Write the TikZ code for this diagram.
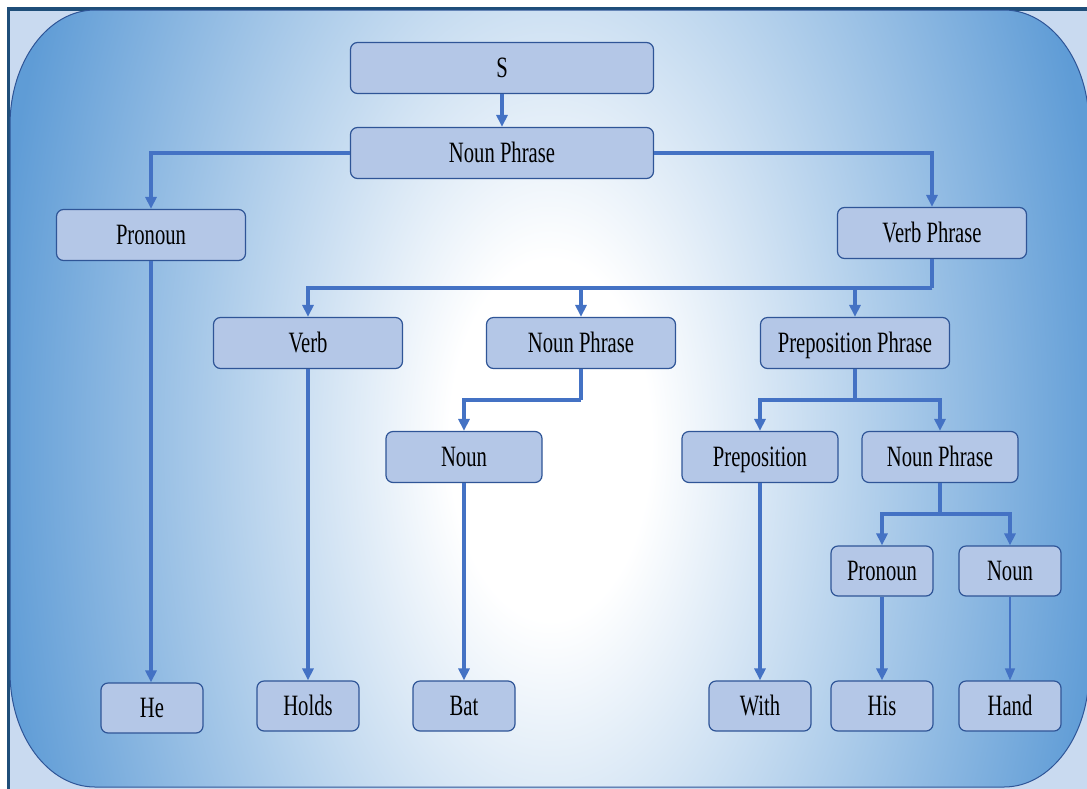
\documentclass[tikz,border=0pt]{standalone}
\usepackage{fontspec}
\setmainfont{Liberation Serif}[FakeStretch=0.70]
\usetikzlibrary{arrows.meta,calc}
\definecolor{bgedge}{HTML}{5F9CD6}
\definecolor{outerfill}{HTML}{C9DAF0}
\definecolor{outerline}{HTML}{1F4E79}
\definecolor{rrline}{HTML}{2F5597}
\definecolor{boxfill}{HTML}{B4C7E7}
\definecolor{boxline}{HTML}{2F5597}
\definecolor{conncol}{HTML}{4472C4}
\pgfdeclareradialshading{bgshade}{\pgfpoint{0bp}{0bp}}{color(0bp)=(white); color(4.5bp)=(white); color(25bp)=(bgedge); color(50bp)=(bgedge)}
\tikzset{
  box/.style={draw=boxline, line width=1.2pt, fill=boxfill, rounded corners=7pt,
    inner sep=0pt, text height=19.5pt, text depth=0pt, align=center,
    font=\fontsize{29.5}{30}\selectfont},
  bigbox/.style={box, minimum width=303pt, minimum height=51pt},
  medbox/.style={box, minimum width=189pt, minimum height=51pt},
  midbox/.style={box, minimum width=156pt, minimum height=51pt},
  smallbox/.style={box, minimum width=102pt, minimum height=50pt},
  conn/.style={draw=conncol, line width=3.5pt, -{Triangle[width=11pt,length=12pt]}},
  thinconn/.style={draw=conncol, line width=1.3pt, -{Triangle[width=10pt,length=12pt]}},
  plainconn/.style={draw=conncol, line width=3.5pt},
}
\begin{document}
\begin{tikzpicture}[x=1pt,y=-1pt]
\useasboundingbox (0,0) rectangle (1087,788);
% outer frame
\begin{scope}
\clip (0,0) rectangle (1087,788);
\draw[fill=outerfill, draw=outerline, line width=3.5pt] (8.5,9) rectangle (1100,800);
% rounded panel
\def\pnl{(10,125) arc[start angle=180, end angle=270, x radius=85, y radius=115] -- (1004,10)
  arc[start angle=270, end angle=360, x radius=85, y radius=115] -- (1089,672)
  arc[start angle=0, end angle=90, x radius=85, y radius=115] -- (95,787)
  arc[start angle=90, end angle=180, x radius=85, y radius=115] -- cycle}
\begin{scope}
\clip \pnl;
\shade[shading=bgshade] (-10,-560) rectangle (1110,1440);
\end{scope}
\draw[rrline, line width=1pt] \pnl;
\end{scope}

% nodes
\node[bigbox] (s) at (502,68) {S};
\node[bigbox] (np1) at (502,153) {Noun Phrase};
\node[medbox] (pron1) at (151,235) {Pronoun};
\node[medbox] (vp) at (932,233) {Verb Phrase};
\node[medbox] (verb) at (308,343) {Verb};
\node[medbox] (np2) at (581,343) {Noun Phrase};
\node[medbox] (pp) at (855,343) {Preposition Phrase};
\node[midbox] (noun1) at (464,457) {Noun};
\node[midbox] (prep) at (760,457) {Preposition};
\node[midbox] (np3) at (940,457) {Noun Phrase};
\node[smallbox] (pron2) at (882,571) {Pronoun};
\node[smallbox] (noun2) at (1010,571) {Noun};
\node[smallbox] (he) at (152,708) {He};
\node[smallbox] (holds) at (308,706) {Holds};
\node[smallbox] (bat) at (464,706) {Bat};
\node[smallbox] (with) at (760,706) {With};
\node[smallbox] (his) at (882,706) {His};
\node[smallbox] (hand) at (1010,706) {Hand};

% junctions
\coordinate (j1) at (932,288);
\coordinate (j2) at (581,400);
\coordinate (j3) at (855,400);
\coordinate (j4) at (940,514);

% connectors
\draw[conn] (s) -- (np1);
\draw[conn] (np1.west) -| (pron1.north);
\draw[conn] (np1.east) -| (vp.north);
\draw[plainconn] (vp.south) -- (j1);
\draw[conn] (j1) -| (verb.north);
\draw[conn] (j1) -| (np2.north);
\draw[conn] (j1) -| (pp.north);
\draw[conn] (pron1.south) -- (pron1.south |- he.north);
\draw[conn] (verb) -- (holds);
\draw[plainconn] (np2.south) -- (j2);
\draw[conn] (j2) -| (noun1.north);
\draw[conn] (noun1) -- (bat);
\draw[plainconn] (pp.south) -- (j3);
\draw[conn] (j3) -| (prep.north);
\draw[conn] (j3) -| (np3.north);
\draw[conn] (prep) -- (with);
\draw[plainconn] (np3.south) -- (j4);
\draw[conn] (j4) -| (pron2.north);
\draw[conn] (j4) -| (noun2.north);
\draw[conn] (pron2) -- (his);
\draw[thinconn] (noun2) -- (hand);
\end{tikzpicture}
\end{document}
